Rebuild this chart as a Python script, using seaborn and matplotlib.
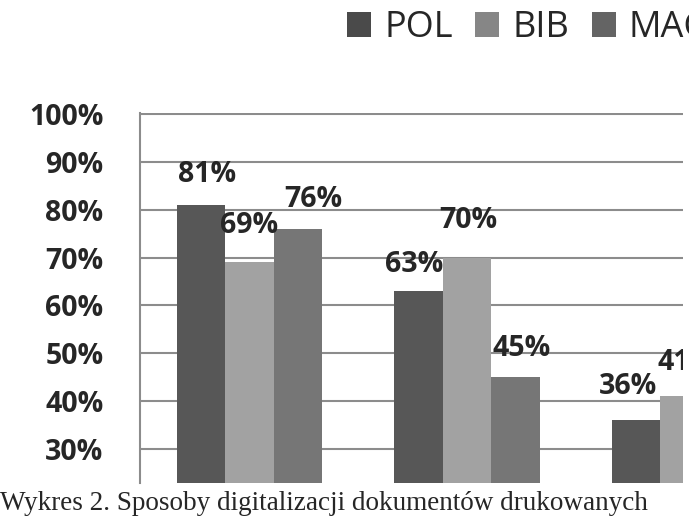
import numpy as np
import pandas as pd
import matplotlib
matplotlib.use("Agg")
import matplotlib.pyplot as plt
from matplotlib.patches import Patch
import seaborn as sns

# data (third category is cut off on the right)
categories = ["Kat. 1", "Kat. 2", "Kat. 3"]
series = ["POL", "BIB", "MAG"]
pol = [81, 63, 36]
bib = [69, 70, 41]
mag = [76, 45, np.nan]
labels = {"POL": ["81%", "63%", "36%"],
          "BIB": ["69%", "70%", "41%"],
          "MAG": ["76%", "45%", ""]}
yticks = [30, 40, 50, 60, 70, 80, 90, 100]
caption = "Wykres 2. Sposoby digitalizacji dokumentów drukowanych"

# label nudges in pixels (the labels sit a bit unevenly in the original)
nudge = {"POL": [(6, 30), (-4, 27), (-8, 34)],
         "BIB": [(0, 37), (1, 37), (2, 34)],
         "MAG": [(15, 29), (6, 29), (0, 30)]}

bar_colors = ["#575757", "#a2a2a2", "#767676"]
legend_colors = ["#4a4a4a", "#868686", "#646464"]
grid_gray = "#8c8c8c"

rows = []
for name, vals in zip(series, [pol, bib, mag]):
    for c, v in zip(categories, vals):
        rows.append({"kat": c, "seria": name, "val": v})
df = pd.DataFrame(rows)

sns.set_style("white")
plt.rcParams["font.family"] = ["Open Sans", "DejaVu Sans"]

fig = plt.figure(figsize=(6.89, 5.17), dpi=100)
ax = fig.add_axes([140 / 689, (517 - 483) / 517, 543 / 689, (483 - 113) / 517])

sns.barplot(data=df, x="kat", y="val", hue="seria", order=categories,
            hue_order=series, palette=bar_colors, width=0.67, gap=0,
            errorbar=None, saturation=1, ax=ax, legend=False, zorder=3,
            linewidth=0)

ax.set_xlim(-0.503, 1.993)
ax.set_ylim(22.9, 100.2)
ax.set_yticks(yticks)
ax.set_yticklabels([f"{t}%" for t in yticks], fontsize=20.5, fontweight="bold")
ax.tick_params(axis="y", length=7.2, width=1.5, color=grid_gray, pad=19)
ax.tick_params(axis="x", bottom=False, labelbottom=False)
ax.set_xlabel("")
ax.set_ylabel("")
ax.grid(axis="y", color=grid_gray, linewidth=1.5, zorder=0)
ax.set_axisbelow(True)
for s in ["top", "right", "bottom"]:
    ax.spines[s].set_visible(False)
ax.spines["left"].set_color(grid_gray)
ax.spines["left"].set_linewidth(1.5)

for name, cont in zip(series, ax.containers):
    for bar in cont:
        h = bar.get_height()
        if not np.isfinite(h):
            continue
        xc = bar.get_x() + bar.get_width() / 2
        i = int(round(xc))
        dx, dy = nudge[name][i]
        ax.annotate(labels[name][i], (xc, h), xytext=(dx, dy),
                    textcoords="offset pixels", ha="center", va="center",
                    fontsize=20.5, fontweight="bold", annotation_clip=False,
                    clip_on=True, zorder=5)

handles = [Patch(facecolor=c, edgecolor="none") for c in legend_colors]
fig.legend(handles, series, loc="upper left", bbox_to_anchor=(347 / 689, 1 - 10 / 517),
           ncol=3, frameon=False, fontsize=26, handlelength=0.67, handleheight=0.67,
           handletextpad=0.36, columnspacing=0.62, borderpad=0, borderaxespad=0)

fig.text(0.0, 1 - 510 / 517, caption, family="Liberation Serif", fontsize=19.5,
         va="baseline", ha="left")

fig.savefig("out.png", dpi=100)
